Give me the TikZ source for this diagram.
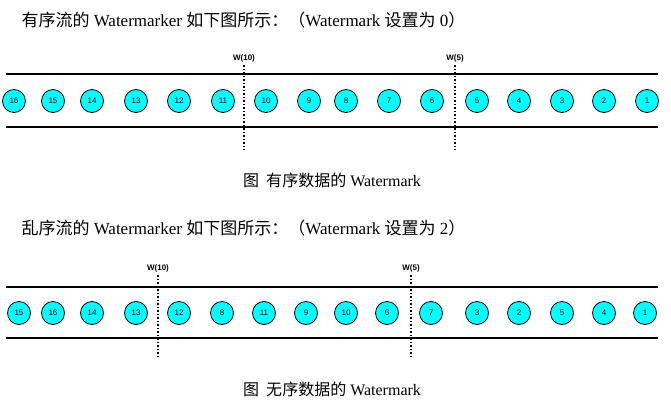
\documentclass[tikz,border=0pt]{standalone}
\usepackage{fontspec}
\setmainfont{Liberation Serif}
\newfontfamily\cjk{Noto Sans CJK SC}
\newfontfamily\numfont{Liberation Sans}
\definecolor{eventfill}{RGB}{0,255,255}

\begin{document}
\begin{tikzpicture}[x=1pt,y=-1pt,
		event/.style={circle, draw, thick, fill=eventfill, inner sep=0pt, minimum size=23pt, font=\numfont\fontsize{8}{9}\selectfont},
		wmark/.style={dotted, line width=1.5pt},
		wlabel/.style={font=\numfont\bfseries\fontsize{8}{9}\selectfont},
		stream/.style={line width=1.6pt}]
		\useasboundingbox (0,0) rectangle (671,404);
		% ordered stream
		\node[anchor=west, font=\fontsize{17}{19}\selectfont] (titleA) at (18,20) {{\cjk 有序流的} Watermarker {\cjk 如下图所示：（}Watermark {\cjk 设置为} 0{\cjk ）}};
		\coordinate (topAl) at (6,74); \coordinate (topAr) at (658,74);
		\coordinate (botAl) at (6,127); \coordinate (botAr) at (658,127);
		\draw[stream] (topAl) -- (topAr);
		\draw[stream] (botAl) -- (botAr);
		\foreach \n/\x in {16/14,15/53,14/92,13/136,12/179,11/223,10/266,9/309,8/346,7/389,6/432,5/477,4/519,3/562,2/604,1/647}
			\node[event] (a\n) at (\x,101) {\n};
		\node[wlabel] (wa10) at (244,58) {W(10)};
		\node[wlabel] (wa5) at (455,58) {W(5)};
		\coordinate (wa10end) at (244,150); \coordinate (wa5end) at (455,150);
		\draw[wmark] (wa10.south) -- (wa10end);
		\draw[wmark] (wa5.south) -- (wa5end);
		\node[font=\fontsize{16}{18}\selectfont] (capA) at (332,180) {{\cjk 图\ \ 有序数据的} Watermark};
		% out-of-order stream
		\node[anchor=west, font=\fontsize{17}{19}\selectfont] (titleB) at (18,228) {{\cjk 乱序流的} Watermarker {\cjk 如下图所示：（}Watermark {\cjk 设置为} 2{\cjk ）}};
		\coordinate (topBl) at (6,287); \coordinate (topBr) at (658,287);
		\coordinate (botBl) at (6,338); \coordinate (botBr) at (658,338);
		\draw[stream] (topBl) -- (topBr);
		\draw[stream] (botBl) -- (botBr);
		\foreach \n/\x in {15/19,16/53,14/92,13/136,12/179,8/222,11/264,9/306,10/346,6/387,7/431,3/477,2/519,5/562,4/604,1/645}
			\node[event] (b\n) at (\x,313) {\n};
		\node[wlabel] (wb10) at (158,268) {W(10)};
		\node[wlabel] (wb5) at (411,268) {W(5)};
		\coordinate (wb10end) at (158,358); \coordinate (wb5end) at (411,358);
		\draw[wmark] (wb10.south) -- (wb10end);
		\draw[wmark] (wb5.south) -- (wb5end);
		\node[font=\fontsize{16}{18}\selectfont] (capB) at (332,389) {{\cjk 图\ \ 无序数据的} Watermark};
\end{tikzpicture}
\end{document}
